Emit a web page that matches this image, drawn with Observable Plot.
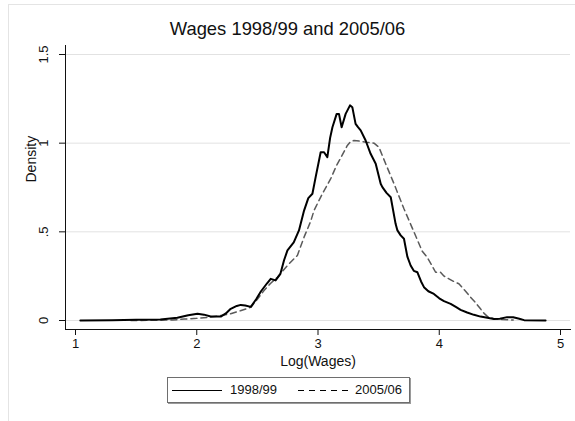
<!DOCTYPE html>
<html>
<head>
<meta charset="utf-8">
<script src="https://cdn.jsdelivr.net/npm/d3@7"></script>
<script src="https://cdn.jsdelivr.net/npm/@observablehq/plot@0.6"></script>
<style>
  html, body { margin: 0; padding: 0; background: #fff; }
  #wrap { position: relative; width: 575px; height: 421px; overflow: hidden; font-family: "Liberation Sans", Arial, Helvetica, sans-serif; }
  #wrap svg.plot { position: absolute; left: 0; top: 0; }
  #outer { position: absolute; left: 8px; top: 4px; width: 700px; height: 600px; border: 1px solid #e4e4e4; }
  #title { position: absolute; left: 0; width: 575px; top: 18px; text-align: center; font-size: 18.4px; color: #111; }
  #legend { position: absolute; left: 167px; top: 377px; width: 241px; height: 24px; border: 1px solid #6e6e6e; box-shadow: 1px 1px 0 #9a9a9a; background: #fff; font-size: 13px; color: #111; }
  #legend .item { position: absolute; top: 4px; height: 16px; line-height: 16px; }
  #legend svg { position: absolute; top: 0; }
</style>
</head>
<body>
<div id="wrap">
  <div id="outer"></div>
</div>
<script>
// ---- data ----
const title = "Wages 1998/99 and 2005/06";
const xLabel = "Log(Wages)";
const yLabel = "Density";
const seriesNames = ["1998/99", "2005/06"];
const xTicks = [1, 2, 3, 4, 5];
const xTickLabels = ["1", "2", "3", "4", "5"];
const yTicks = [0, 0.5, 1, 1.5];
const yTickLabels = ["0", ".5", "1", "1.5"];

const x9899 = [1.04, 1.3, 1.5, 1.7, 1.84, 1.93, 2.006, 2.06, 2.115, 2.198, 2.24, 2.28, 2.33, 2.363, 2.40, 2.446, 2.49, 2.53, 2.58, 2.61, 2.65, 2.69, 2.72, 2.748, 2.80, 2.843, 2.885, 2.92, 2.954, 2.981, 3.022, 3.05, 3.077, 3.10, 3.119, 3.154, 3.173, 3.195, 3.228, 3.264, 3.283, 3.31, 3.33, 3.352, 3.393, 3.434, 3.476, 3.517, 3.531, 3.565, 3.60, 3.64, 3.655, 3.682, 3.709, 3.737, 3.764, 3.79, 3.82, 3.85, 3.874, 3.91, 3.956, 4.0, 4.039, 4.094, 4.14, 4.176, 4.23, 4.286, 4.34, 4.397, 4.45, 4.50, 4.56, 4.61, 4.66, 4.70, 4.877];
const y9899 = [0, 0.001, 0.004, 0.006, 0.015, 0.03, 0.038, 0.033, 0.023, 0.022, 0.04, 0.066, 0.082, 0.088, 0.085, 0.077, 0.12, 0.165, 0.21, 0.235, 0.226, 0.263, 0.34, 0.395, 0.44, 0.508, 0.62, 0.69, 0.715, 0.81, 0.949, 0.949, 0.921, 1.03, 1.09, 1.165, 1.165, 1.09, 1.165, 1.213, 1.203, 1.109, 1.09, 1.072, 1.015, 0.94, 0.884, 0.771, 0.752, 0.72, 0.695, 0.545, 0.508, 0.48, 0.461, 0.36, 0.31, 0.28, 0.272, 0.22, 0.188, 0.165, 0.15, 0.125, 0.109, 0.094, 0.075, 0.06, 0.045, 0.032, 0.022, 0.015, 0.009, 0.01, 0.019, 0.018, 0.01, 0.002, 0];

const x0506 = [1.457, 1.6, 1.8, 1.9, 2.0, 2.1, 2.2, 2.28, 2.36, 2.446, 2.50, 2.555, 2.61, 2.665, 2.71, 2.748, 2.79, 2.83, 2.885, 2.94, 2.967, 3.036, 3.105, 3.15, 3.19, 3.242, 3.27, 3.297, 3.352, 3.40, 3.462, 3.503, 3.558, 3.627, 3.709, 3.791, 3.86, 3.90, 3.94, 3.97, 4.01, 4.04, 4.08, 4.12, 4.162, 4.21, 4.259, 4.30, 4.34, 4.37, 4.397, 4.45, 4.52, 4.61];
const y0506 = [0, 0.001, 0.003, 0.008, 0.012, 0.018, 0.028, 0.038, 0.055, 0.075, 0.12, 0.169, 0.21, 0.244, 0.28, 0.31, 0.34, 0.367, 0.47, 0.56, 0.62, 0.715, 0.8, 0.87, 0.92, 0.987, 1.01, 1.015, 1.011, 1.005, 1.0, 0.977, 0.884, 0.771, 0.63, 0.5, 0.39, 0.357, 0.31, 0.272, 0.272, 0.25, 0.235, 0.22, 0.207, 0.17, 0.131, 0.1, 0.066, 0.04, 0.023, 0.01, 0.005, 0.003];

const d9899 = x9899.map((x, i) => ({x, y: y9899[i]}));
const d0506 = x0506.map((x, i) => ({x, y: y0506[i]}));

const chart = Plot.plot({
  width: 575,
  height: 421,
  marginLeft: 65,
  marginRight: 5,
  marginTop: 45,
  marginBottom: 92,
  x: {domain: [1, 5], insetLeft: 10, insetRight: 10},
  y: {domain: [0, 1.5], insetTop: 9, insetBottom: 9},
  style: {fontFamily: "'Liberation Sans', Arial, Helvetica, sans-serif", fontSize: "13px", background: "transparent", color: "#111"},
  marks: [
    Plot.gridY(yTicks, {stroke: "#e2e2e2", strokeOpacity: 1, strokeWidth: 1}),
    Plot.frame({anchor: "left", stroke: "#111"}),
    Plot.frame({anchor: "bottom", stroke: "#111"}),
    Plot.axisX(xTicks, {tickSize: 6, tickPadding: 3, tickFormat: (d) => xTickLabels[xTicks.indexOf(d)], label: null, stroke: "#111"}),
    Plot.axisY(yTicks, {tickSize: 6, tickPadding: 12, tickRotate: -90, tickFormat: (d) => yTickLabels[yTicks.indexOf(d)], label: null, stroke: "#111"}),
    Plot.text([xLabel], {text: (d) => d, frameAnchor: "bottom", dy: 32, fontSize: 14, lineAnchor: "middle"}),
    Plot.text([yLabel], {text: (d) => d, frameAnchor: "left", dx: -34, dy: -5, rotate: -90, fontSize: 14, lineAnchor: "middle"}),
    Plot.line(d0506, {x: "x", y: "y", stroke: "#5a5a5a", strokeWidth: 1.5, strokeDasharray: "6,4"}),
    Plot.line(d9899, {x: "x", y: "y", stroke: "#000", strokeWidth: 2})
  ]
});
const wrap = document.getElementById("wrap");
wrap.appendChild(chart);

const t = document.createElement("div");
t.id = "title";
t.textContent = title;
wrap.appendChild(t);

const leg = document.createElement("div");
leg.id = "legend";
leg.innerHTML =
  `<svg width="60" height="24" style="left:4px"><line x1="0" x2="50" y1="12.5" y2="12.5" stroke="#000" stroke-width="1.2"/></svg>` +
  `<span class="item" style="left:62px">${seriesNames[0]}</span>` +
  `<svg width="60" height="24" style="left:130px"><line x1="0" x2="50" y1="12.5" y2="12.5" stroke="#000" stroke-width="1.2" stroke-dasharray="6,5"/></svg>` +
  `<span class="item" style="left:187px">${seriesNames[1]}</span>`;
wrap.appendChild(leg);
</script>
</body>
</html>
